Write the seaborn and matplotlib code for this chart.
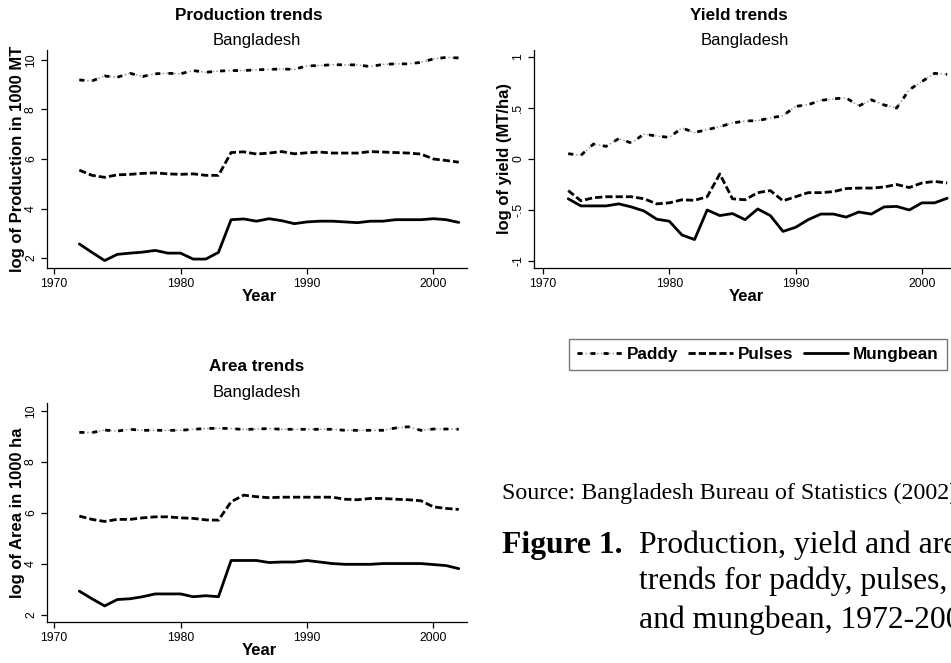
import matplotlib
matplotlib.use("Agg")
import matplotlib.pyplot as plt
import seaborn as sns
import pandas as pd
from matplotlib.lines import Line2D
from matplotlib.legend_handler import HandlerTuple

sns.set_theme(style="white")
plt.rcParams["font.family"] = ["Liberation Sans", "DejaVu Sans"]

# ---------------- data ----------------
years = list(range(1972, 2003))
crops = ["Paddy", "Pulses", "Mungbean"]

prod_paddy = [9.19, 9.15, 9.35, 9.30, 9.46, 9.33, 9.44, 9.46, 9.44, 9.57, 9.50,
              9.55, 9.57, 9.57, 9.60, 9.62, 9.63, 9.62, 9.76, 9.77, 9.81, 9.80,
              9.80, 9.73, 9.82, 9.84, 9.84, 9.90, 10.04, 10.10, 10.08]
prod_pulses = [5.55, 5.34, 5.26, 5.36, 5.38, 5.42, 5.44, 5.40, 5.38, 5.40, 5.34,
               5.34, 6.26, 6.29, 6.20, 6.24, 6.30, 6.21, 6.25, 6.28, 6.24, 6.24,
               6.24, 6.30, 6.28, 6.26, 6.24, 6.20, 6.00, 5.94, 5.87]
prod_mung = [2.57, 2.23, 1.90, 2.15, 2.20, 2.24, 2.31, 2.20, 2.20, 1.96, 1.96,
             2.23, 3.55, 3.58, 3.49, 3.59, 3.51, 3.39, 3.46, 3.49, 3.49, 3.46,
             3.43, 3.49, 3.49, 3.55, 3.55, 3.55, 3.59, 3.55, 3.44]

yield_paddy = [0.052, 0.036, 0.147, 0.124, 0.200, 0.157, 0.245, 0.225, 0.212, 0.304,
               0.260, 0.288, 0.317, 0.353, 0.373, 0.376, 0.402, 0.425, 0.516, 0.533,
               0.575, 0.590, 0.600, 0.520, 0.580, 0.530, 0.500, 0.680, 0.760, 0.840, 0.830]
yield_pulses = [-0.31, -0.41, -0.38, -0.37, -0.37, -0.37, -0.39, -0.44, -0.43, -0.40,
                -0.405, -0.37, -0.147, -0.39, -0.40, -0.33, -0.31, -0.41, -0.37, -0.33,
                -0.33, -0.32, -0.29, -0.285, -0.285, -0.275, -0.25, -0.28, -0.235, -0.22, -0.235]
yield_mung = [-0.39, -0.46, -0.46, -0.46, -0.44, -0.47, -0.51, -0.59, -0.61, -0.745,
              -0.79, -0.50, -0.555, -0.535, -0.595, -0.49, -0.555, -0.71, -0.67, -0.595,
              -0.54, -0.54, -0.57, -0.52, -0.54, -0.47, -0.465, -0.50, -0.43, -0.43, -0.385]

area_paddy = [9.16, 9.15, 9.25, 9.21, 9.28, 9.24, 9.24, 9.24, 9.24, 9.28, 9.31,
              9.32, 9.31, 9.27, 9.29, 9.31, 9.28, 9.28, 9.28, 9.28, 9.28, 9.24,
              9.24, 9.24, 9.24, 9.33, 9.38, 9.24, 9.29, 9.29, 9.28]
area_pulses = [5.88, 5.75, 5.67, 5.75, 5.75, 5.81, 5.85, 5.85, 5.81, 5.79, 5.73,
               5.72, 6.44, 6.70, 6.64, 6.60, 6.62, 6.62, 6.62, 6.62, 6.62, 6.54,
               6.52, 6.57, 6.57, 6.54, 6.52, 6.48, 6.24, 6.18, 6.14]
area_mung = [2.94, 2.64, 2.36, 2.61, 2.64, 2.72, 2.83, 2.83, 2.83, 2.72, 2.76,
             2.72, 4.14, 4.14, 4.14, 4.06, 4.08, 4.08, 4.14, 4.08, 4.02, 3.99,
             3.99, 3.99, 4.02, 4.02, 4.02, 4.02, 3.98, 3.94, 3.82]

x_ticks = [1970, 1980, 1990, 2000]
prod_ticks = [2, 4, 6, 8, 10]
yield_ticks = [-1, -0.5, 0, 0.5, 1]
yield_tick_labels = ["-1", "-.5", "0", ".5", "1"]
area_ticks = [2, 4, 6, 8, 10]


def long_df(a, b, c):
    frames = []
    for name, vals in zip(crops, [a, b, c]):
        frames.append(pd.DataFrame({"Year": years, "value": vals, "Crop": name}))
    return pd.concat(frames, ignore_index=True)


# paddy: black dashes over a faint grey dotted line
dash_map = {"Paddy": (1.8, 2.9),
            "Pulses": (2.6, 1.1),
            "Mungbean": ""}
paddy_dots = (1.2, 1.6)

W, H = 951, 663
fig = plt.figure(figsize=(W / 100, H / 100), dpi=100)
fig.patch.set_facecolor("white")


def px_axes(left, top, right, bottom):
    return fig.add_axes([left / W, 1 - bottom / H, (right - left) / W, (bottom - top) / H])


def style_axes(ax, xlim, ylim, yticks, yticklabels, ylabel):
    ax.set_xlim(*xlim)
    ax.set_ylim(*ylim)
    ax.set_xticks(x_ticks)
    ax.set_yticks(yticks)
    if yticklabels is not None:
        ax.set_yticklabels(yticklabels)
    for s in ["top", "right"]:
        ax.spines[s].set_visible(False)
    for s in ["left", "bottom"]:
        ax.spines[s].set_color("black")
        ax.spines[s].set_linewidth(0.9)
    ax.tick_params(axis="both", which="major", direction="out", length=4.5, width=0.9,
                   color="black", labelsize=8.8, labelcolor="black",
                   bottom=True, left=True)
    ax.tick_params(axis="x", pad=3)
    ax.tick_params(axis="y", pad=2.5, labelrotation=90)
    for lab in ax.get_yticklabels():
        lab.set_verticalalignment("center")
    ax.set_xlabel("Year", fontsize=12, fontweight="bold", color="black")
    ax.set_ylabel(ylabel, fontsize=12, fontweight="bold", color="black")
    ax.xaxis.set_label_coords(0.505, -0.095)
    ax.yaxis.set_label_coords(-0.052, 0.5)
    ax.grid(False)
    ax.set_facecolor("white")


def draw(ax, df):
    paddy = df[df["Crop"] == "Paddy"]
    sns.lineplot(data=paddy, x="Year", y="value", color="#9a9a9a", linewidth=1.0,
                 dashes=False, ax=ax, legend=False, errorbar=None)
    ax.lines[-1].set_dashes(paddy_dots)
    sns.lineplot(data=df, x="Year", y="value", style="Crop", style_order=crops,
                 dashes=dash_map, color="black", linewidth=2.0, ax=ax,
                 legend=False, errorbar=None)


# Production
ax1 = px_axes(46.7, 50, 467, 268)
draw(ax1, long_df(prod_paddy, prod_pulses, prod_mung))
style_axes(ax1, (1969.42, 2002.65), (1.6, 10.4), prod_ticks, None,
           "log of Production in 1000 MT")

# Yield
ax2 = px_axes(534, 50, 954, 268)
draw(ax2, long_df(yield_paddy, yield_pulses, yield_mung))
style_axes(ax2, (1969.29, 2002.54), (-1.069, 1.069), yield_ticks, yield_tick_labels,
           "log of yield (MT/ha)")

# Area
ax3 = px_axes(46.7, 403, 467, 622)
draw(ax3, long_df(area_paddy, area_pulses, area_mung))
style_axes(ax3, (1969.42, 2002.65), (1.73, 10.31), area_ticks, None,
           "log of Area in 1000 ha")


def ftext(x, y, s, **kw):
    fig.text(x / W, 1 - y / H, s, ha=kw.pop("ha", "center"), va="baseline", **kw)


# panel titles
ftext(249, 20, "Production trends", fontsize=12.3, fontweight="bold", color="black")
ftext(257, 45.5, "Bangladesh", fontsize=12, color="black")
ftext(739, 20, "Yield trends", fontsize=12.3, fontweight="bold", color="black")
ftext(745, 45.5, "Bangladesh", fontsize=12, color="black")
ftext(257, 370.7, "Area trends", fontsize=12.3, fontweight="bold", color="black")
ftext(257, 396.7, "Bangladesh", fontsize=12, color="black")

# legend
paddy_handle = (Line2D([], [], color="#9a9a9a", lw=1.0, dashes=paddy_dots),
                Line2D([], [], color="black", lw=2.0, dashes=dash_map["Paddy"]))
handles = [paddy_handle,
           Line2D([], [], color="black", lw=2.0, dashes=dash_map["Pulses"]),
           Line2D([], [], color="black", lw=2.0)]
leg = fig.legend(handles, crops, loc="center", bbox_to_anchor=(758 / W, 1 - 354.5 / H),
                 ncol=3, frameon=True, fancybox=False, edgecolor="#555555",
                 prop={"weight": "bold", "size": 12.3}, handlelength=2.6,
                 handletextpad=0.3, columnspacing=0.6, borderpad=0.45,
                 handler_map={tuple: HandlerTuple(ndivide=1, pad=0)})
leg.get_frame().set_linewidth(1.0)
for t in leg.get_texts():
    t.set_color("black")

# source and caption
serif = ["Liberation Serif", "DejaVu Serif"]
ftext(502, 499.3, "Source: Bangladesh Bureau of Statistics (2002)", ha="left",
      fontsize=17.3, family=serif, color="black")
ftext(502, 552.7, "Figure 1.", ha="left", fontsize=22.8, fontweight="bold",
      family=serif, color="black")
ftext(639, 552.7, "Production, yield and area", ha="left", fontsize=22.8,
      family=serif, color="black")
ftext(639, 589.3, "trends for paddy, pulses,", ha="left", fontsize=22.8,
      family=serif, color="black")
ftext(639, 627.7, "and mungbean, 1972-2002", ha="left", fontsize=22.8,
      family=serif, color="black")

fig.savefig("out.png", dpi=100, facecolor="white")
